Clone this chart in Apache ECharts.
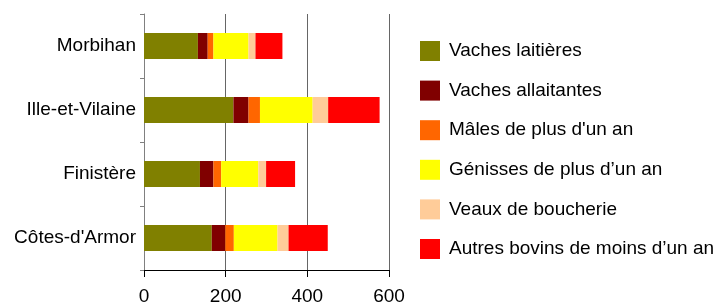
<!DOCTYPE html>
<html>
<head>
<meta charset="utf-8">
<script src="https://cdn.jsdelivr.net/npm/echarts@6/dist/echarts.min.js"></script>
<style>
  html, body { margin: 0; padding: 0; background: #fff; }
  #chart { width: 718px; height: 304px; }
</style>
</head>
<body>
<div id="chart"></div>
<script>
const departements = ['Côtes-d\'Armor', 'Finistère', 'Ille-et-Vilaine', 'Morbihan']
const xTicks = [0, 200, 400, 600]

const vachesLaitieres = [166, 137, 219, 132]
const vachesAllaitantes = [33, 33, 37, 24]
const malesPlusUnAn = [21, 19, 28, 14]
const genissesPlusUnAn = [107, 91, 129, 86]
const veauxBoucherie = [27, 19, 38, 17]
const autresMoinsUnAn = [96, 71, 126, 66]

const seriesDefs = [
  { name: 'Vaches laitières', data: vachesLaitieres, color: '#808000' },
  { name: 'Vaches allaitantes', data: vachesAllaitantes, color: '#800000' },
  { name: 'Mâles de plus d\'un an', data: malesPlusUnAn, color: '#FF6600' },
  { name: 'Génisses de plus d’un an', data: genissesPlusUnAn, color: '#FFFF00' },
  { name: 'Veaux de boucherie', data: veauxBoucherie, color: '#FFCC99' },
  { name: 'Autres bovins de moins d’un an', data: autresMoinsUnAn, color: '#FF0000' },
]

const chart = echarts.init(document.getElementById('chart'))
const font = 'Liberation Sans, Arial, sans-serif'

const option = {
  animation: false,
  backgroundColor: '#fff',
  textStyle: { fontFamily: font },
  grid: {
    left: 144,
    right: 329,
    top: 14,
    bottom: 34,
    containLabel: false,
    outerBoundsMode: 'none',
  },
  legend: {
    orient: 'vertical',
    left: 420,
    top: 41,
    padding: 0,
    itemWidth: 20,
    itemHeight: 20,
    itemGap: 19.6,
    icon: 'rect',
    textStyle: {
      fontFamily: font,
      fontSize: 19,
      color: '#000',
      padding: [0, 0, 0, 4],
    },
    data: seriesDefs.map((s) => s.name),
  },
  xAxis: {
    type: 'value',
    min: 0,
    max: xTicks[xTicks.length - 1],
    interval: 200,
    axisLine: { show: true, lineStyle: { color: '#000', width: 1 } },
    axisTick: { show: true, length: 7, lineStyle: { color: '#000' } },
    axisLabel: {
      fontFamily: font,
      fontSize: 19,
      color: '#000',
      margin: 17,
    },
    splitLine: {
      show: true,
      lineStyle: { color: '#666', width: 1 },
    },
  },
  yAxis: {
    type: 'category',
    data: departements,
    axisLine: { show: true, lineStyle: { color: '#808080', width: 1 } },
    axisTick: {
      show: true,
      alignWithLabel: false,
      length: 4,
      lineStyle: { color: '#808080' },
    },
    axisLabel: {
      fontFamily: font,
      fontSize: 19,
      color: '#000',
      margin: 8,
    },
  },
  series: seriesDefs.map((s) => ({
    name: s.name,
    type: 'bar',
    stack: 'total',
    barWidth: 26,
    data: s.data,
    itemStyle: { color: s.color },
  })),
}

option && chart.setOption(option)
</script>
</body>
</html>
